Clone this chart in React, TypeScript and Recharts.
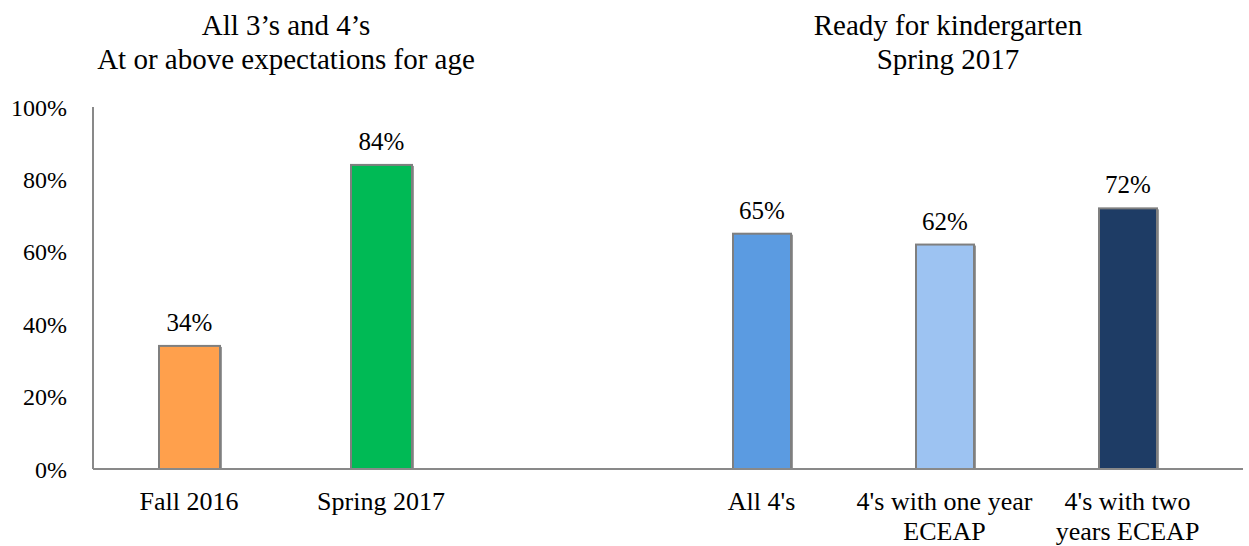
import React from "react";
import { BarChart, Bar, XAxis, YAxis, Cell, LabelList } from "recharts";

// Left panel: all 3's and 4's
const leftCategories = ["Fall 2016", "Spring 2017"];
const leftValues = [34, 84];
const leftColors = ["#FFA04C", "#00BA55"];

// Right panel: kindergarten readiness, spring 2017
const rightCategories = ["All 4's", "4's with one year\nECEAP", "4's with two\nyears ECEAP"];
const rightValues = [65, 62, 72];
const rightColors = ["#5B9BE1", "#9DC3F2", "#1E3C65"];

const yTicks = [0, 20, 40, 60, 80, 100];

const leftData = leftCategories.map((name, i) => ({ name, value: leftValues[i] }));
const rightData = rightCategories.map((name, i) => ({ name, value: rightValues[i] }));

const FONT = "Liberation Serif, Tinos, Noto Serif, DejaVu Serif";
const AXIS_COLOR = "#898989";
const TOP = 107;
const X_AXIS_HEIGHT = 77;
const HEIGHT = 546;

const MultiLineTick = (props: any) => {
  const { x, y, payload } = props;
  const lines = String(payload.value).split("\n");
  return (
    <text x={x} y={y + 41} textAnchor="middle" fontFamily={FONT} fontSize={26} fill="#000">
      {lines.map((line, i) => (
        <tspan key={i} x={x} dy={i === 0 ? 0 : 30}>
          {line}
        </tspan>
      ))}
    </text>
  );
};

const ShadowBar = (props: any) => {
  const { x, y, width, height, fill } = props;
  if (!height || height <= 0) return null;
  return (
    <g>
      <rect x={x + 2} y={y + 1} width={width} height={height - 1} fill="rgba(0,0,0,0.4)" />
      <rect x={x} y={y} width={width} height={height} fill={fill} stroke="#7f7f7f" strokeWidth={2} />
    </g>
  );
};

const percent = (v: any) => `${v}%`;

export default function App() {
  return (
    <div style={{ position: "absolute", left: 0, top: 0, width: 1249, height: HEIGHT, background: "#fff", fontFamily: FONT }}>
      <svg width={1249} height={80} style={{ position: "absolute", left: 0, top: 0 }}>
        <g fontFamily={FONT} fontSize={29} fill="#000" textAnchor="middle">
          <text x={286} y={35}>All 3’s and 4’s</text>
          <text x={286} y={69}>At or above expectations for age</text>
          <text x={948} y={35}>Ready for kindergarten</text>
          <text x={948} y={69}>Spring 2017</text>
        </g>
      </svg>

      <div style={{ position: "absolute", left: 0, top: 0 }}>
        <BarChart
          width={669}
          height={HEIGHT}
          data={leftData}
          margin={{ top: TOP, right: 0, bottom: 0, left: 0 }}
          barSize={61}
          style={{ fontFamily: FONT }}
        >
          <YAxis
            width={93}
            domain={[0, 100]}
            ticks={yTicks}
            tickFormatter={percent}
            interval={0}
            tickLine={false}
            tickSize={0}
            tickMargin={26}
            axisLine={{ stroke: AXIS_COLOR, strokeWidth: 2 }}
            tick={{ fontFamily: FONT, fontSize: 24, fill: "#000" }}
          />
          <XAxis
            dataKey="name"
            height={X_AXIS_HEIGHT}
            interval={0}
            tickLine={false}
            tickSize={0}
            tickMargin={0}
            padding={{ left: 0, right: 192 }}
            axisLine={{ stroke: AXIS_COLOR, strokeWidth: 2 }}
            tick={<MultiLineTick />}
          />
          <Bar dataKey="value" isAnimationActive={false} shape={<ShadowBar />}>
            {leftData.map((d, i) => (
              <Cell key={d.name} fill={leftColors[i]} />
            ))}
            <LabelList
              dataKey="value"
              position="top"
              offset={15}
              formatter={percent}
              fontFamily={FONT}
              fontSize={25}
              fill="#000"
            />
          </Bar>
        </BarChart>
      </div>

      <div style={{ position: "absolute", left: 669, top: 0 }}>
        <BarChart
          width={574}
          height={HEIGHT}
          data={rightData}
          margin={{ top: TOP, right: 0, bottom: 0, left: 0 }}
          barSize={58}
          style={{ fontFamily: FONT }}
        >
          <YAxis hide width={0} domain={[0, 100]} ticks={yTicks} />
          <XAxis
            dataKey="name"
            height={X_AXIS_HEIGHT}
            interval={0}
            tickLine={false}
            tickSize={0}
            tickMargin={0}
            padding={{ left: 1, right: 24 }}
            axisLine={{ stroke: AXIS_COLOR, strokeWidth: 2 }}
            tick={<MultiLineTick />}
          />
          <Bar dataKey="value" isAnimationActive={false} shape={<ShadowBar />}>
            {rightData.map((d, i) => (
              <Cell key={d.name} fill={rightColors[i]} />
            ))}
            <LabelList
              dataKey="value"
              position="top"
              offset={15}
              formatter={percent}
              fontFamily={FONT}
              fontSize={25}
              fill="#000"
            />
          </Bar>
        </BarChart>
      </div>
    </div>
  );
}
